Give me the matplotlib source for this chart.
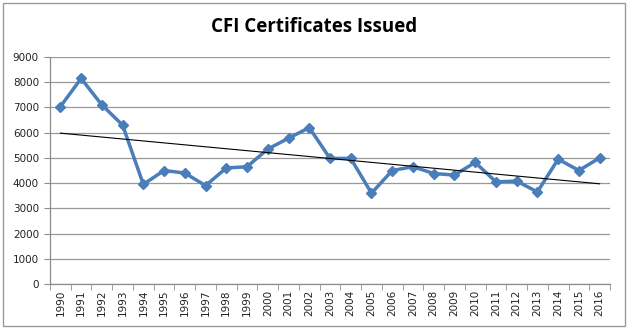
import matplotlib
matplotlib.use("Agg")
import matplotlib.pyplot as plt
import numpy as np
from matplotlib.patches import Rectangle

years = [str(y) for y in range(1990, 2017)]
certificates = [7030, 8150, 7100, 6300, 3950, 4500, 4400, 3900, 4600, 4650,
                5350, 5780, 6200, 4980, 4980, 3600, 4500, 4650, 4380, 4320,
                4820, 4050, 4080, 3650, 4950, 4500, 5000]
yticks = list(range(0, 10000, 1000))

fig = plt.figure(figsize=(6.28, 3.31), dpi=100)
fig.patches.append(Rectangle((3/628, 5/331), 622/628, 323/331, transform=fig.transFigure,
                             fill=False, edgecolor='#9a9a9a', linewidth=1.0))
ax = fig.add_axes([50/628, 1-284/331, 560/628, 227/331])

x = np.arange(len(years))
ax.plot(x, certificates, color='#4a7ebb', linewidth=2.5, marker='D', markersize=5.5,
        zorder=3)
coef = np.polyfit(x, certificates, 1)
ax.plot([x[0], x[-1]], np.polyval(coef, [x[0], x[-1]]), color='black', linewidth=0.8, zorder=4)

ax.set_xlim(-0.5, len(years) - 0.5)
ax.set_ylim(0, 9000)
ax.set_yticks(yticks)
ax.set_yticklabels([str(v) for v in yticks], fontsize=7.5, color='#222222')
ax.set_xticks(x)
ax.set_xticklabels(years, rotation=90, fontsize=7.5, color='#222222')
ax.set_xticks(np.arange(-0.5, len(years), 1), minor=True)
ax.tick_params(axis='x', which='major', length=0, pad=4)
ax.tick_params(axis='x', which='minor', length=4, color='#8c8c8c', direction='out')
ax.tick_params(axis='y', length=4, color='#8c8c8c', pad=4)
ax.grid(axis='y', color='#999999', linewidth=0.9)
ax.set_axisbelow(True)
for s in ['top', 'right']:
    ax.spines[s].set_visible(False)
for s in ['left', 'bottom']:
    ax.spines[s].set_color('#8c8c8c')
    ax.spines[s].set_linewidth(0.9)

fig.text(0.5, 1-27/331, 'CFI Certificates Issued', ha='center', va='center',
         fontsize=13.5, fontweight='bold', family='Open Sans')

fig.savefig('out.png', dpi=100)
